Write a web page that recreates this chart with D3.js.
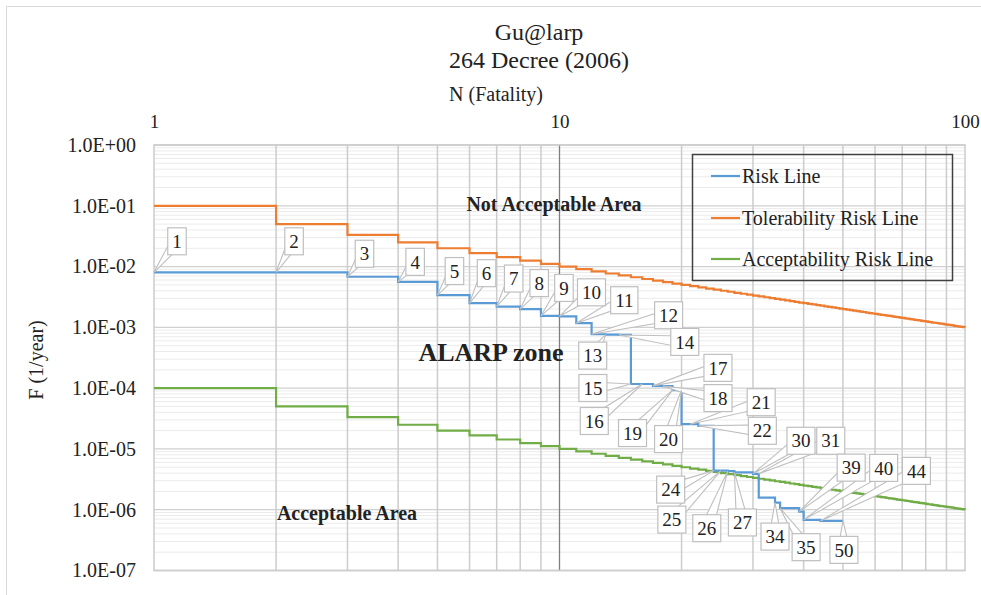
<!DOCTYPE html>
<html><head><meta charset="utf-8">
<script src="https://cdn.jsdelivr.net/npm/d3@7"></script>
<style>body{margin:0;background:#fff;} text{font-family:"Liberation Serif","Times New Roman",serif;fill:#222;}</style>
</head><body><svg id="c" width="981" height="595"></svg>
<script>
// ---- data ----
const titleLines = ["Gu@larp", "264 Decree (2006)"];
const xTickValues = [1, 10, 100];
const yTickValues = [1e-7, 1e-6, 1e-5, 1e-4, 1e-3, 1e-2, 1e-1, 1];
const riskN = [1,2,3,4,5,6,7,8,9,10,11,12,13,14,15,16,17,18,19,20,21,22,24,25,26,27,30,31,34,35,39,40,44,50];
const riskF = [8.05e-3,8.05e-3,6.8e-3,5.6e-3,3.4e-3,2.5e-3,2.2e-3,2.0e-3,1.54e-3,1.52e-3,1.17e-3,7.7e-4,7.6e-4,7.5e-4,1.17e-4,1.17e-4,1.09e-4,1.08e-4,9.3e-5,2.55e-5,2.55e-5,2.4e-5,4.4e-6,4.4e-6,4.3e-6,4.1e-6,3.9e-6,1.58e-6,1.31e-6,1.06e-6,9.3e-7,6.8e-7,6.55e-7,6.55e-7];
const limitN = [1,2,3,4,5,6,7,8,9,10,11,12,13,14,15,16,17,18,19,20,21,22,23,24,25,26,27,28,29,30,31,32,33,34,35,36,37,38,39,40,41,42,43,44,45,46,47,48,49,50,51,52,53,54,55,56,57,58,59,60,61,62,63,64,65,66,67,68,69,70,71,72,73,74,75,76,77,78,79,80,81,82,83,84,85,86,87,88,89,90,91,92,93,94,95,96,97,98,99,100];
const tolerabilityF = [1.0e-1,5.0e-2,3.33e-2,2.5e-2,2.0e-2,1.67e-2,1.43e-2,1.25e-2,1.11e-2,1.0e-2,9.09e-3,8.33e-3,7.69e-3,7.14e-3,6.67e-3,6.25e-3,5.88e-3,5.56e-3,5.26e-3,5.0e-3,4.76e-3,4.55e-3,4.35e-3,4.17e-3,4.0e-3,3.85e-3,3.70e-3,3.57e-3,3.45e-3,3.33e-3,3.23e-3,3.13e-3,3.03e-3,2.94e-3,2.86e-3,2.78e-3,2.70e-3,2.63e-3,2.56e-3,2.5e-3,2.44e-3,2.38e-3,2.33e-3,2.27e-3,2.22e-3,2.17e-3,2.13e-3,2.08e-3,2.04e-3,2.0e-3,1.96e-3,1.92e-3,1.89e-3,1.85e-3,1.82e-3,1.79e-3,1.75e-3,1.72e-3,1.69e-3,1.67e-3,1.64e-3,1.61e-3,1.59e-3,1.56e-3,1.54e-3,1.52e-3,1.49e-3,1.47e-3,1.45e-3,1.43e-3,1.41e-3,1.39e-3,1.37e-3,1.35e-3,1.33e-3,1.32e-3,1.30e-3,1.28e-3,1.27e-3,1.25e-3,1.23e-3,1.22e-3,1.20e-3,1.19e-3,1.18e-3,1.16e-3,1.15e-3,1.14e-3,1.12e-3,1.11e-3,1.10e-3,1.09e-3,1.08e-3,1.06e-3,1.05e-3,1.04e-3,1.03e-3,1.02e-3,1.01e-3,1.0e-3];
const acceptabilityF = [1.0e-4,5.0e-5,3.33e-5,2.5e-5,2.0e-5,1.67e-5,1.43e-5,1.25e-5,1.11e-5,1.0e-5,9.09e-6,8.33e-6,7.69e-6,7.14e-6,6.67e-6,6.25e-6,5.88e-6,5.56e-6,5.26e-6,5.0e-6,4.76e-6,4.55e-6,4.35e-6,4.17e-6,4.0e-6,3.85e-6,3.70e-6,3.57e-6,3.45e-6,3.33e-6,3.23e-6,3.13e-6,3.03e-6,2.94e-6,2.86e-6,2.78e-6,2.70e-6,2.63e-6,2.56e-6,2.5e-6,2.44e-6,2.38e-6,2.33e-6,2.27e-6,2.22e-6,2.17e-6,2.13e-6,2.08e-6,2.04e-6,2.0e-6,1.96e-6,1.92e-6,1.89e-6,1.85e-6,1.82e-6,1.79e-6,1.75e-6,1.72e-6,1.69e-6,1.67e-6,1.64e-6,1.61e-6,1.59e-6,1.56e-6,1.54e-6,1.52e-6,1.49e-6,1.47e-6,1.45e-6,1.43e-6,1.41e-6,1.39e-6,1.37e-6,1.35e-6,1.33e-6,1.32e-6,1.30e-6,1.28e-6,1.27e-6,1.25e-6,1.23e-6,1.22e-6,1.20e-6,1.19e-6,1.18e-6,1.16e-6,1.15e-6,1.14e-6,1.12e-6,1.11e-6,1.10e-6,1.09e-6,1.08e-6,1.06e-6,1.05e-6,1.04e-6,1.03e-6,1.02e-6,1.01e-6,1.0e-6];
const seriesNames = ["Risk Line", "Tolerability Risk Line", "Acceptability Risk Line"];
const areaLabels = ["Not Acceptable Area", "ALARP zone", "Acceptable Area"];
// label layout (pixel offsets of callout box centre from its point)
const labelOffsets = [[23,-31],[18,-31],[17,-23],[17,-20],[17,-24],[17,-30],[17,-28],[19,-26],[23,-28],[32,-24],[48,-23],[77,-19],[-13,21],[66,7],[-38,4],[-48,37],[65,-18],[55,12],[-40,43],[-13,49],[71,-22],[64,5],[-43,19],[-49,49],[-21,57],[8,50],[48,-33],[72,-33],[0,34],[26,39],[52,-44],[80,-52],[96,-50],[1,29]];
const labelAtStepTop = [20, 31];

// ---- drawing ----
const colors = ["#5B9BD5", "#ED7D31", "#70AD47"];
const svg = d3.select("#c");
const L = 154, R = 965, T = 145, B = 570.5;
const x = d3.scaleLog().domain([1, 100]).range([L, R]);
const y = d3.scaleLog().domain([1e-7, 1]).range([B, T]);

svg.append("rect").attr("x", 6.5).attr("y", 6.5).attr("width", 1000).attr("height", 1000)
  .attr("fill", "none").attr("stroke", "#d9d9d9");

const grid = svg.append("g");
const yMinor = [];
for (let k = -7; k < 0; k++) for (let m = 2; m <= 9; m++) yMinor.push(m * Math.pow(10, k));
grid.selectAll(".hm").data(yMinor).join("line")
  .attr("x1", L).attr("x2", R).attr("y1", d => y(d)).attr("y2", d => y(d))
  .attr("stroke", "#ebebeb").attr("stroke-width", 1);
grid.selectAll(".hM").data(yTickValues).join("line")
  .attr("x1", L).attr("x2", R).attr("y1", d => y(d)).attr("y2", d => y(d))
  .attr("stroke", "#d0d0d0").attr("stroke-width", 1.3);
const xMinor = [];
for (let k = 0; k < 2; k++) for (let m = 2; m <= 9; m++) xMinor.push(m * Math.pow(10, k));
grid.selectAll(".vm").data(xMinor).join("line")
  .attr("y1", T).attr("y2", B).attr("x1", d => x(d)).attr("x2", d => x(d))
  .attr("stroke", "#cccccc").attr("stroke-width", 1.5);
grid.append("line").attr("y1", T).attr("y2", B).attr("x1", x(10)).attr("x2", x(10))
  .attr("stroke", "#7f7f7f").attr("stroke-width", 1.3);
svg.append("rect").attr("x", L).attr("y", T).attr("width", R - L).attr("height", B - T)
  .attr("fill", "none").attr("stroke", "#cccccc").attr("stroke-width", 1.5);

// axes
const yFmt = d => { const e = Math.round(Math.log10(d)); return "1.0E" + (e < 0 ? "-" : "+") + String(Math.abs(e)).padStart(2, "0"); };
const ya = svg.append("g").attr("transform", `translate(${L},0)`)
  .call(d3.axisLeft(y).tickValues(yTickValues).tickFormat(yFmt).tickSize(0).tickPadding(18));
ya.select(".domain").remove();
ya.selectAll("text").style("font-size", "20px").style("font-family", "Liberation Serif").attr("fill", "#333");
const xa = svg.append("g").attr("transform", `translate(0,${T})`)
  .call(d3.axisTop(x).tickValues(xTickValues).tickFormat(d3.format("d")).tickSize(0).tickPadding(17));
xa.select(".domain").remove();
xa.selectAll("text").style("font-size", "19px").style("font-family", "Liberation Serif").attr("fill", "#333");

// titles
svg.append("text").attr("x", 539).attr("y", 40).attr("text-anchor", "middle").style("font-size", "24px").text(titleLines[0]);
svg.append("text").attr("x", 539).attr("y", 68).attr("text-anchor", "middle").style("font-size", "24px").text(titleLines[1]);
svg.append("text").attr("x", 496).attr("y", 101).attr("text-anchor", "middle").style("font-size", "20px").text("N (Fatality)");
svg.append("text").attr("transform", "translate(43,360) rotate(-90)").attr("text-anchor", "middle").style("font-size", "20px").text("F (1/year)");

// series
const line = d3.line().x(d => x(d[0])).y(d => y(d[1])).curve(d3.curveStepAfter);
const tolData = limitN.map((n, i) => [n, tolerabilityF[i]]);
const accData = limitN.map((n, i) => [n, acceptabilityF[i]]);
const riskData = riskN.map((n, i) => [n, riskF[i]]);
svg.append("path").datum(tolData).attr("d", line).attr("fill", "none").attr("stroke", colors[1]).attr("stroke-width", 2.2);
svg.append("path").datum(accData).attr("d", line).attr("fill", "none").attr("stroke", colors[2]).attr("stroke-width", 2.2);
svg.append("path").datum(riskData).attr("d", line).attr("fill", "none").attr("stroke", colors[0]).attr("stroke-width", 2.2);

// area labels
svg.append("text").attr("x", 554).attr("y", 211).attr("text-anchor", "middle").style("font-size", "20px").style("font-weight", "bold").attr("fill", "#111").text(areaLabels[0]);
svg.append("text").attr("x", 491).attr("y", 361).attr("text-anchor", "middle").style("font-size", "26px").style("font-weight", "bold").attr("fill", "#111").text(areaLabels[1]);
svg.append("text").attr("x", 347).attr("y", 520).attr("text-anchor", "middle").style("font-size", "20px").style("font-weight", "bold").attr("fill", "#111").text(areaLabels[2]);

// legend
const lg = svg.append("g");
lg.append("rect").attr("x", 692.5).attr("y", 154.5).attr("width", 260).attr("height", 126)
  .attr("fill", "none").attr("stroke", "#404040").attr("stroke-width", 1.5);
const rowsY = [176, 218, 259];
seriesNames.forEach((s, i) => {
  lg.append("line").attr("x1", 711).attr("x2", 740).attr("y1", rowsY[i]).attr("y2", rowsY[i]).attr("stroke", colors[i]).attr("stroke-width", 2.2);
  lg.append("text").attr("x", 742).attr("y", rowsY[i]).attr("dy", "0.35em").style("font-size", "20px").text(s);
});

// callout labels
const wedges = svg.append("g"), boxes = svg.append("g");
riskN.forEach((n, i) => {
  const f = labelAtStepTop.includes(n) ? riskF[i - 1] : riskF[i];
  const ax = x(n), ay = y(f);
  const cx = ax + labelOffsets[i][0], cy = ay + labelOffsets[i][1];
  const g = boxes.append("g");
  const t = g.append("text").attr("x", cx).attr("y", cy).attr("dy", "0.35em").attr("text-anchor", "middle")
    .style("font-size", "19px").attr("fill", "#222").text(String(n));
  const tw = t.node().getComputedTextLength();
  const bw = tw + 9, bh = 27;
  g.insert("rect", "text").attr("x", cx - bw / 2).attr("y", cy - bh / 2).attr("width", bw).attr("height", bh)
    .attr("fill", "#fff").attr("stroke", "#bfbfbf").attr("stroke-width", 1.2);
  const dx = ax - cx, dy = ay - cy, len = Math.hypot(dx, dy) || 1;
  const px = -dy / len * 6, py = dx / len * 6;
  wedges.append("polygon").attr("points", `${ax},${ay} ${cx + px},${cy + py} ${cx - px},${cy - py}`)
    .attr("fill", "#fff").attr("stroke", "#bfbfbf").attr("stroke-width", 1.1);
});
</script></body></html>
